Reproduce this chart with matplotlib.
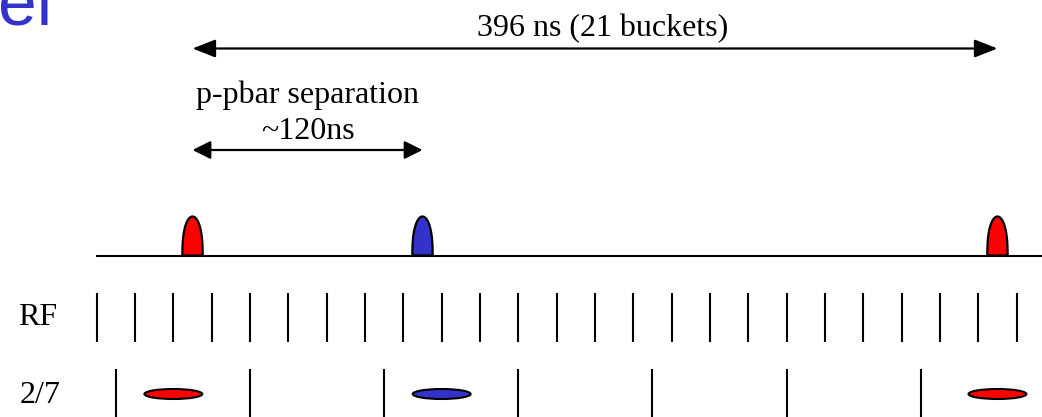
import numpy as np
import matplotlib
matplotlib.use("Agg")
from matplotlib import pyplot as plt
from matplotlib.patches import Ellipse, FancyArrowPatch

# bucket positions (x unit = one RF bucket)
rf_ticks = [0, 1, 2, 3, 4, 5, 6, 7, 8, 9, 10, 11, 12,
            13, 14, 15, 16, 17, 18, 19, 20, 21, 22, 23, 24]
ticks_27 = [0.5, 4.0, 7.5, 11.0, 14.5, 18.0, 21.5]
bunch_pos = [2.5, 8.5, 23.5]
bunch_type = ["p", "pbar", "p"]
bunch_27_pos = [2.0, 9.0, 23.5]
bunch_27_type = ["p", "pbar", "p"]
span_total = (2.5, 23.5)
span_sep = (2.5, 8.5)
label_total = "396 ns (21 buckets)"
label_sep = ["p-pbar separation", "~120ns"]
row_labels = ["RF", "2/7"]

colors = {"p": "#ff0000", "pbar": "#3333cc"}
serif = ["Liberation Serif", "DejaVu Serif"]

# pixel layout
W, H = 1042, 417
X0, PX = 96.7, 38.33          # pixel of bucket 0, pixels per bucket
BASE_Y = 255.5
BUMP_H, BUMP_W = 39, 0.53
RF_Y = (293, 342)
T27_Y = (369, 417)
E27_Y, E27_W, E27_H = 394, 1.51, 10
FS = 23


def bx(px):
    return (px - X0) / PX


def draw_arrow(ax, x1, x2, y, hl, hw):
    arr = FancyArrowPatch((x1, y), (x2, y),
                          arrowstyle=f"<|-|>,head_length={hl},head_width={hw}",
                          mutation_scale=1, shrinkA=0, shrinkB=0,
                          lw=1.6, color="black")
    ax.add_patch(arr)


def main():
    fig = plt.figure(figsize=(W / 100, H / 100), dpi=100)
    ax = fig.add_axes([0, 0, 1, 1])
    ax.set_xlim(bx(0), bx(W))
    ax.set_ylim(H, 0)
    ax.axis("off")

    # title fragment in top-left (cut by the top edge, as in the slide)
    ax.text(bx(52), 24, "el", color="#3333cc", fontsize=50,
            family=["Liberation Sans", "DejaVu Sans"], ha="right", va="baseline")

    # span arrows and labels
    draw_arrow(ax, span_total[0], span_total[1], 48.5, 14, 5.5)
    ax.text(bx(603), 36, label_total, fontsize=FS, family=serif,
            ha="center", va="baseline")
    draw_arrow(ax, span_sep[0], span_sep[1], 150, 11, 5.5)
    mid = (span_sep[0] + span_sep[1]) / 2
    ax.text(mid, 102.7, label_sep[0], fontsize=FS, family=serif,
            ha="center", va="baseline")
    ax.text(mid, 139.3, label_sep[1], fontsize=FS, family=serif,
            ha="center", va="baseline")

    # baseline and bunches
    ax.plot([bx(95.7), bx(W)], [BASE_Y, BASE_Y], color="black", lw=1.5,
            solid_capstyle="butt")
    t = np.linspace(0, np.pi, 60)
    for pos, kind in zip(bunch_pos, bunch_type):
        xs = pos + BUMP_W / 2 * np.cos(t)
        ys = BASE_Y - BUMP_H * np.sin(t) ** 0.8
        ax.fill(xs, ys, facecolor=colors[kind], edgecolor="black", lw=1.6,
                zorder=3)

    # RF buckets
    for x in rf_ticks:
        ax.plot([x, x], RF_Y, color="black", lw=1.5, solid_capstyle="butt")
    ax.text(bx(18), 325, row_labels[0], fontsize=FS, family=serif,
            ha="left", va="baseline")

    # 2/7 buckets
    for x in ticks_27:
        ax.plot([x, x], T27_Y, color="black", lw=1.5, solid_capstyle="butt")
    for pos, kind in zip(bunch_27_pos, bunch_27_type):
        ax.add_patch(Ellipse((pos, E27_Y), E27_W, E27_H,
                             facecolor=colors[kind], edgecolor="black", lw=1.5,
                             zorder=3))
    ax.text(bx(20), 403, row_labels[1], fontsize=FS, family=serif,
            ha="left", va="baseline")

    fig.savefig("out.png", dpi=100)


if __name__ == "__main__":
    main()
